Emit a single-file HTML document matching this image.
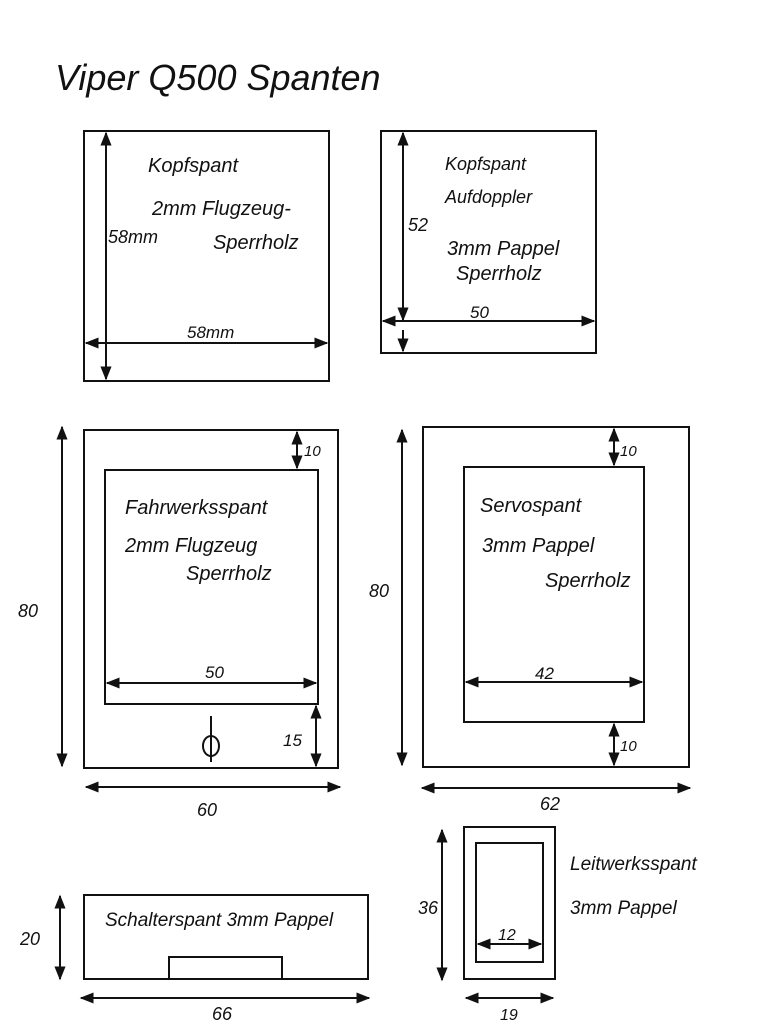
<!DOCTYPE html>
<html><head><meta charset="utf-8"><style>
html,body{margin:0;padding:0;background:#fff;}
svg{display:block;}
text{font-family:"Liberation Sans",sans-serif;font-style:italic;fill:#111;}
</style></head><body>
<svg width="767" height="1024" viewBox="0 0 767 1024" xmlns="http://www.w3.org/2000/svg">
<defs>
<marker id="a" viewBox="0 0 10 10" refX="9" refY="5" markerWidth="7" markerHeight="7" orient="auto-start-reverse">
<path d="M0,1 L10,5 L0,9 z" fill="#111"/></marker>
</defs>
<g stroke="#111" stroke-width="2" fill="none">
<!-- Box1 -->
<rect x="84" y="131" width="245" height="250"/>
<line x1="106" y1="133" x2="106" y2="379" marker-start="url(#a)" marker-end="url(#a)"/>
<line x1="86" y1="343" x2="327" y2="343" marker-start="url(#a)" marker-end="url(#a)"/>
<!-- Box2 -->
<rect x="381" y="131" width="215" height="222"/>
<line x1="403" y1="133" x2="403" y2="320" marker-start="url(#a)" marker-end="url(#a)"/>
<line x1="403" y1="330" x2="403" y2="351" marker-end="url(#a)"/>
<line x1="383" y1="321" x2="594" y2="321" marker-start="url(#a)" marker-end="url(#a)"/>
<!-- Box3 -->
<rect x="84" y="430" width="254" height="338"/>
<rect x="105" y="470" width="213" height="234"/>
<line x1="62" y1="427" x2="62" y2="766" marker-start="url(#a)" marker-end="url(#a)"/>
<line x1="297" y1="432" x2="297" y2="468" marker-start="url(#a)" marker-end="url(#a)"/>
<line x1="316" y1="706" x2="316" y2="766" marker-start="url(#a)" marker-end="url(#a)"/>
<line x1="107" y1="683" x2="316" y2="683" marker-start="url(#a)" marker-end="url(#a)"/>
<line x1="86" y1="787" x2="340" y2="787" marker-start="url(#a)" marker-end="url(#a)"/>
<ellipse cx="211" cy="746" rx="8" ry="10"/>
<line x1="211" y1="716" x2="211" y2="762"/>
<!-- Box4 -->
<rect x="423" y="427" width="266" height="340"/>
<rect x="464" y="467" width="180" height="255"/>
<line x1="402" y1="430" x2="402" y2="765" marker-start="url(#a)" marker-end="url(#a)"/>
<line x1="614" y1="429" x2="614" y2="465" marker-start="url(#a)" marker-end="url(#a)"/>
<line x1="614" y1="724" x2="614" y2="765" marker-start="url(#a)" marker-end="url(#a)"/>
<line x1="466" y1="682" x2="642" y2="682" marker-start="url(#a)" marker-end="url(#a)"/>
<line x1="422" y1="788" x2="690" y2="788" marker-start="url(#a)" marker-end="url(#a)"/>
<!-- Box5 -->
<rect x="84" y="895" width="284" height="84"/>
<rect x="169" y="957" width="113" height="22"/>
<line x1="60" y1="896" x2="60" y2="979" marker-start="url(#a)" marker-end="url(#a)"/>
<line x1="81" y1="998" x2="369" y2="998" marker-start="url(#a)" marker-end="url(#a)"/>
<!-- Box6 -->
<rect x="464" y="827" width="91" height="152"/>
<rect x="476" y="843" width="67" height="119"/>
<line x1="442" y1="830" x2="442" y2="980" marker-start="url(#a)" marker-end="url(#a)"/>
<line x1="478" y1="944" x2="541" y2="944" marker-start="url(#a)" marker-end="url(#a)"/>
<line x1="466" y1="998" x2="553" y2="998" marker-start="url(#a)" marker-end="url(#a)"/>
</g>
<text x="55" y="90" font-size="36">Viper Q500 Spanten</text>
<text x="148" y="172" font-size="20">Kopfspant</text>
<text x="152" y="215" font-size="20">2mm Flugzeug-</text>
<text x="108" y="243" font-size="18">58mm</text>
<text x="213" y="249" font-size="20">Sperrholz</text>
<text x="187" y="338" font-size="17">58mm</text>
<text x="445" y="170" font-size="18">Kopfspant</text>
<text x="445" y="203" font-size="18">Aufdoppler</text>
<text x="408" y="231" font-size="18">52</text>
<text x="447" y="255" font-size="20">3mm Pappel</text>
<text x="456" y="280" font-size="20">Sperrholz</text>
<text x="470" y="318" font-size="17">50</text>
<text x="125" y="514" font-size="20">Fahrwerksspant</text>
<text x="125" y="552" font-size="20">2mm Flugzeug</text>
<text x="186" y="580" font-size="20">Sperrholz</text>
<text x="304" y="456" font-size="15">10</text>
<text x="205" y="678" font-size="17">50</text>
<text x="283" y="746" font-size="17">15</text>
<text x="18" y="617" font-size="18">80</text>
<text x="197" y="816" font-size="18">60</text>
<text x="480" y="512" font-size="20">Servospant</text>
<text x="482" y="552" font-size="20">3mm Pappel</text>
<text x="545" y="587" font-size="20">Sperrholz</text>
<text x="620" y="456" font-size="15">10</text>
<text x="535" y="679" font-size="17">42</text>
<text x="620" y="751" font-size="15">10</text>
<text x="369" y="597" font-size="18">80</text>
<text x="540" y="810" font-size="18">62</text>
<text x="105" y="926" font-size="19">Schalterspant  3mm Pappel</text>
<text x="20" y="945" font-size="18">20</text>
<text x="212" y="1020" font-size="18">66</text>
<text x="570" y="870" font-size="19">Leitwerksspant</text>
<text x="570" y="914" font-size="19">3mm Pappel</text>
<text x="418" y="914" font-size="18">36</text>
<text x="498" y="940" font-size="16">12</text>
<text x="500" y="1020" font-size="16">19</text>
</svg>
</body></html>
